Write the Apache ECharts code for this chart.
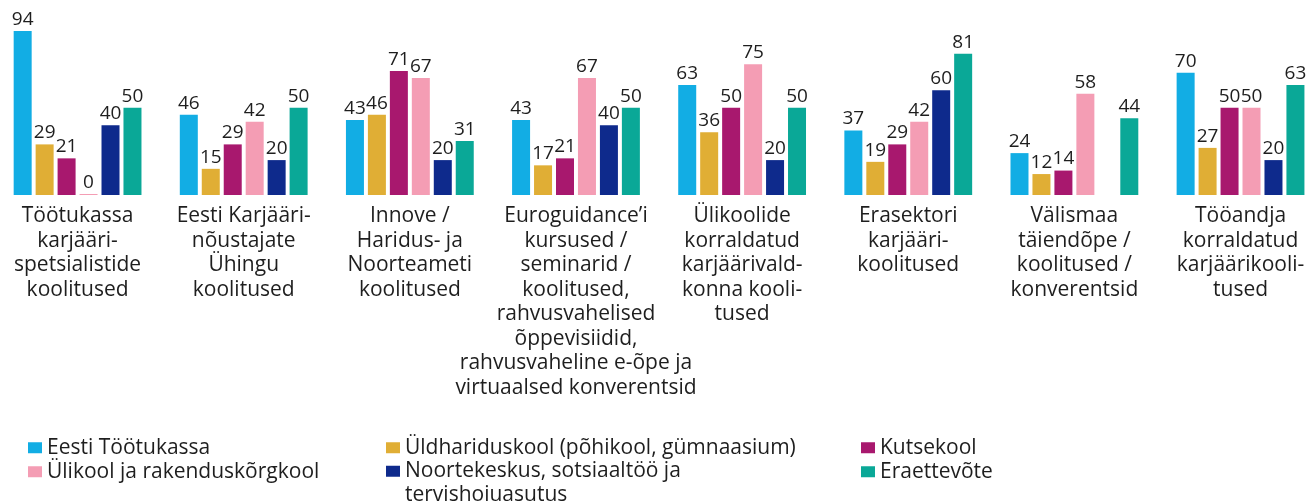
<!DOCTYPE html>
<html>
<head>
<meta charset="utf-8">
<script src="https://cdn.jsdelivr.net/npm/echarts@6/dist/echarts.min.js"></script>
<style>
  html, body { margin: 0; padding: 0; background: #fff; }
  #chart { width: 1312px; height: 502px; }
</style>
</head>
<body>
<div id="chart"></div>
<script>
const categories = [
  'Töötukassa\nkarjääri-\nspetsialistide\nkoolitused',
  'Eesti Karjääri-\nnõustajate\nÜhingu\nkoolitused',
  'Innove /\nHaridus- ja\nNoorteameti\nkoolitused',
  'Euroguidance’i\nkursused /\nseminarid /\nkoolitused,\nrahvusvahelised\nõppevisiidid,\nrahvusvaheline e-õpe ja\nvirtuaalsed konverentsid',
  'Ülikoolide\nkorraldatud\nkarjäärivald-\nkonna kooli-\ntused',
  'Erasektori\nkarjääri-\nkoolitused',
  'Välismaa\ntäiendõpe /\nkoolitused /\nkonverentsid',
  'Tööandja\nkorraldatud\nkarjäärikooli-\ntused'
]

const seriesNames = [
  'Eesti Töötukassa',
  'Üldhariduskool (põhikool, gümnaasium)',
  'Kutsekool',
  'Ülikool ja rakenduskõrgkool',
  'Noortekeskus, sotsiaaltöö ja tervishoiuasutus',
  'Eraettevõte'
]

const colors = ['#12ade4', '#e0ae35', '#a8186e', '#f49db4', '#0e2a8c', '#0aa897']

const tootukassa = [94, 46, 43, 43, 63, 37, 24, 70]
const yldharidus = [29, 15, 46, 17, 36, 19, 12, 27]
const kutsekool = [21, 29, 71, 21, 50, 29, 14, 50]
const ylikool = [0, 42, 67, 67, 75, 42, 58, 50]
const noortekeskus = [40, 20, 20, 40, 20, 60, null, 20]
const eraettevote = [50, 50, 31, 50, 50, 81, 44, 63]

const seriesData = [tootukassa, yldharidus, kutsekool, ylikool, noortekeskus, eraettevote]

const FONT = 'Open Sans'
const TEXT = '#1e1e1e'

// legend: 3 columns x 2 rows, one legend per item
const legendPos = [
  { left: 28, top: 436 },
  { left: 386, top: 436 },
  { left: 861, top: 436 },
  { left: 28, top: 460 },
  { left: 386, top: 436 },
  { left: 861, top: 460 }
]

const legends = seriesNames.map((name, i) => ({
  left: legendPos[i].left,
  top: legendPos[i].top,
  padding: 0,
  itemWidth: 14,
  itemHeight: 11,
  icon: 'rect',
  data: [name],
  // empty first line keeps the icon level with the first text line
  formatter: i === 4 ? '\nNoortekeskus, sotsiaaltöö ja\ntervishoiuasutus' : '{name}',
  textStyle: {
    fontFamily: FONT,
    fontSize: 21,
    color: TEXT,
    lineHeight: 23.5
  }
}))

const chart = echarts.init(document.getElementById('chart'))

chart.setOption({
  animation: false,
  color: colors,
  grid: { left: -5.5, right: -11.6, top: 20.5, bottom: 307, outerBoundsMode: 'none' },
  legend: legends,
  xAxis: {
    type: 'category',
    data: categories,
    axisLine: { show: false },
    axisTick: { show: false },
    axisLabel: {
      interval: 0,
      margin: 9,
      fontFamily: FONT,
      fontSize: 21,
      lineHeight: 24.5,
      color: TEXT
    }
  },
  yAxis: {
    type: 'value',
    min: 0,
    max: 100,
    show: false
  },
  series: seriesData.map((data, i) => ({
    name: seriesNames[i],
    type: 'bar',
    data: data,
    barWidth: 18,
    barGap: '22%',
    barMinHeight: 1,
    label: {
      show: true,
      position: 'top',
      distance: 2,
      fontFamily: FONT,
      fontSize: 19,
      color: TEXT
    }
  }))
})
</script>
</body>
</html>
